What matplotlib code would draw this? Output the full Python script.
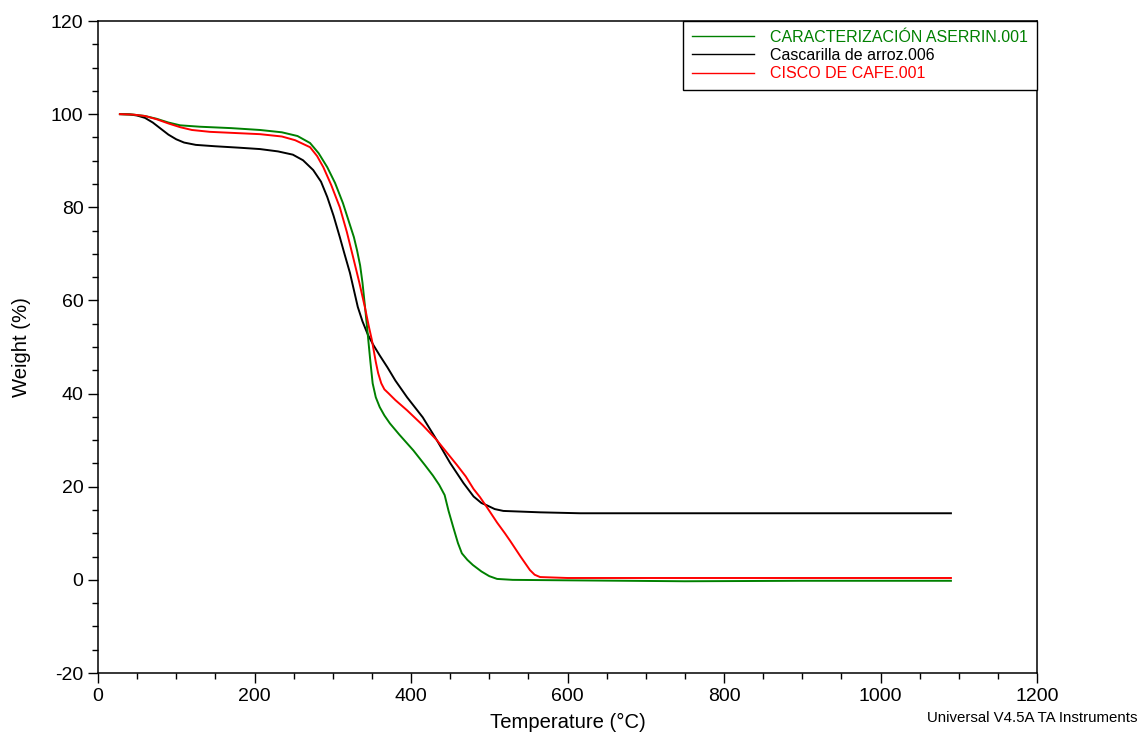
import matplotlib
matplotlib.use("Agg")
import matplotlib.pyplot as plt
from matplotlib.ticker import MultipleLocator

plt.rcParams['font.family'] = ['Liberation Sans', 'DejaVu Sans']
plt.rcParams['axes.unicode_minus'] = False

# Data (Temperature °C, Weight %)
aserrin_T = [28, 45, 60, 75, 90, 105, 130, 170, 207, 235, 255, 271, 282, 293, 303, 313, 322, 327,
             331, 335, 338, 341, 344, 348, 351, 355, 360, 366, 373, 385, 403, 418, 428, 436, 443,
             448, 454, 460, 465, 472, 479, 490, 500, 510, 530, 600, 750, 900, 1090]
aserrin_W = [100, 99.9, 99.6, 99.0, 98.2, 97.6, 97.3, 97.0, 96.6, 96.1, 95.3, 93.8, 91.6, 88.6,
             85.2, 80.9, 76.2, 73.6, 70.8, 67.5, 63.8, 59.0, 54.0, 47.0, 42.2, 39.2, 37.1, 35.3,
             33.6, 31.2, 27.8, 24.6, 22.4, 20.4, 18.2, 14.8, 11.3, 7.9, 5.7, 4.3, 3.2, 1.8, 0.8,
             0.2, 0.0, -0.1, -0.3, -0.2, -0.2]

cascarilla_T = [28, 40, 50, 60, 70, 80, 90, 100, 110, 125, 150, 180, 207, 230, 249, 262, 275, 285,
                293, 301, 309, 315, 322, 332, 338, 345, 352, 360, 370, 380, 395, 415, 433, 450,
                467, 480, 490, 497, 507, 518, 565, 616, 900, 1090]
cascarilla_W = [100, 99.95, 99.7, 99.2, 98.2, 96.9, 95.6, 94.6, 93.9, 93.4, 93.1, 92.8, 92.5, 92.0,
                91.3, 90.1, 88.0, 85.5, 82.2, 78.2, 73.6, 70.0, 65.9, 58.6, 55.5, 52.6, 50.4,
                48.2, 45.6, 42.8, 39.2, 34.9, 30.0, 25.1, 20.8, 17.9, 16.5, 16.0, 15.2, 14.8,
                14.5, 14.3, 14.3, 14.3]

cisco_T = [28, 45, 60, 75, 90, 105, 120, 143, 207, 235, 252, 271, 280, 288, 298, 309, 318, 326,
           334, 341, 346, 350, 355, 358, 362, 366, 371, 380, 395, 415, 433, 445, 459, 470, 480,
           488, 497, 510, 520, 527, 540, 552, 558, 565, 600, 800, 1090]
cisco_W = [100, 99.9, 99.6, 98.9, 98.0, 97.2, 96.6, 96.2, 95.7, 95.2, 94.4, 92.9, 91.0, 88.6,
           84.8, 80.0, 74.7, 69.3, 63.8, 58.6, 54.5, 51.5, 46.8, 44.4, 42.2, 40.9, 40.1, 38.6,
           36.4, 33.2, 30.0, 27.5, 24.6, 22.2, 19.5, 17.8, 15.6, 12.3, 10.0, 8.3, 5.0, 2.1, 1.1,
           0.6, 0.4, 0.4, 0.4]

labels = ["CARACTERIZACIÓN ASERRIN.001", "Cascarilla de arroz.006", "CISCO DE CAFE.001"]
colors = ["#008000", "#000000", "#ff0000"]

fig = plt.figure(figsize=(11.41, 7.34), dpi=100)
ax = fig.add_axes([98/1141, 1-673/734, (1037-98)/1141, (673-21)/734])

series = [(aserrin_T, aserrin_W), (cascarilla_T, cascarilla_W), (cisco_T, cisco_W)]
lines = {}
for i in [1, 0, 2]:
    T, W = series[i]
    ln, = ax.plot(T, W, color=colors[i], lw=1.4, label=labels[i])
    lines[i] = ln

ax.set_xlim(0, 1200)
ax.set_ylim(-20, 120)
ax.xaxis.set_major_locator(MultipleLocator(200))
ax.xaxis.set_minor_locator(MultipleLocator(50))
ax.yaxis.set_major_locator(MultipleLocator(20))
ax.yaxis.set_minor_locator(MultipleLocator(5))
ax.tick_params(axis='both', which='major', direction='out', length=7, width=1, labelsize=14,
               top=False, right=False)
ax.tick_params(axis='both', which='minor', direction='out', length=4, width=1, top=False, right=False)
for s in ax.spines.values():
    s.set_linewidth(1.1)

ax.set_xlabel("Temperature (°C)", fontsize=14.6, labelpad=6)
ax.set_ylabel("Weight (%)", fontsize=14.6, labelpad=14)

leg = ax.legend([lines[0], lines[1], lines[2]], labels, loc='upper right', bbox_to_anchor=(1.0, 1.0),
                borderaxespad=0, fontsize=11.5, frameon=True, fancybox=False, edgecolor='black',
                framealpha=1, handlelength=3.9, handletextpad=1.0, labelspacing=0.2,
                borderpad=0.55)
leg.get_frame().set_linewidth(1.0)
for txt, c in zip(leg.get_texts(), colors):
    txt.set_color(c)
for h in leg.legend_handles:
    h.set_linewidth(1.0)

fig.text(0.997, 0.012, "Universal V4.5A TA Instruments", ha='right', va='bottom', fontsize=10.8)

fig.savefig("out.png", dpi=100)
